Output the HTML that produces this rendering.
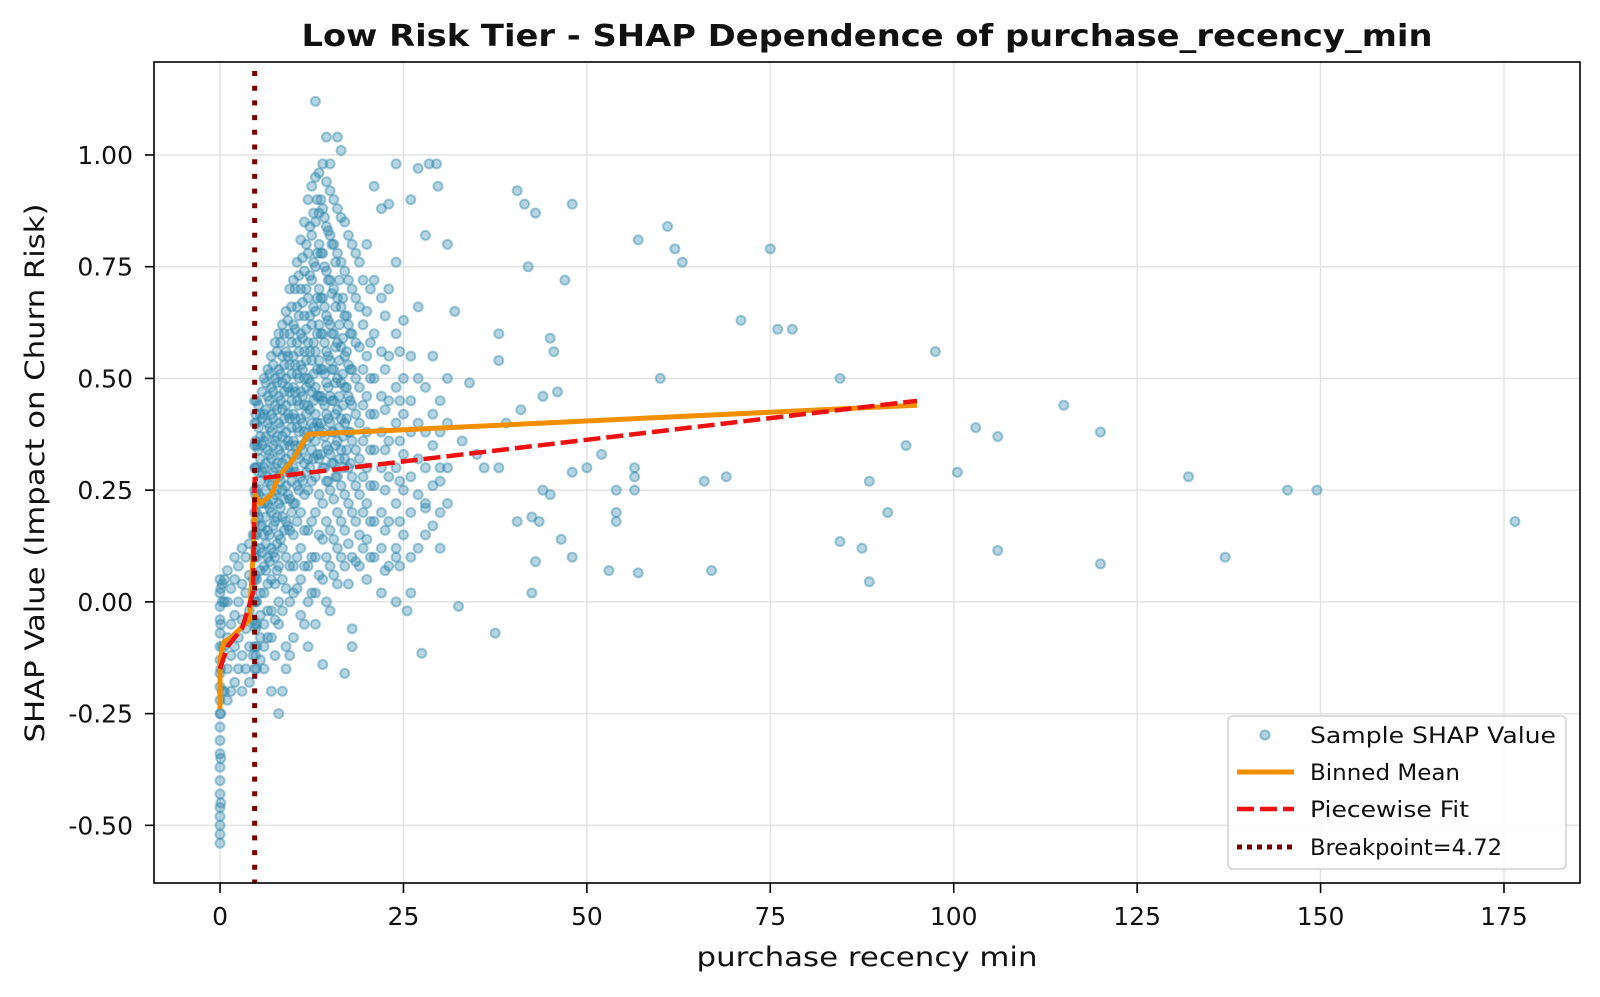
<!DOCTYPE html>
<html><head><meta charset="utf-8">
<style>
body{margin:0;background:#fff;}
svg text{font-family:"DejaVu Sans","Liberation Sans",sans-serif;fill:#111;}
</style></head>
<body>
<svg id="chart" width="1600" height="992" viewBox="0 0 1600 992" xmlns="http://www.w3.org/2000/svg">
<rect width="1600" height="992" fill="#fff"/>
<text x="867" y="46" text-anchor="middle" font-size="30" font-weight="bold" textLength="1131" lengthAdjust="spacingAndGlyphs">Low Risk Tier - SHAP Dependence of purchase_recency_min</text>
<g id="grid"></g>
<g id="points"></g>
<g id="lines"></g>
<rect x="154" y="62" width="1426" height="821" fill="none" stroke="#000" stroke-width="1.6"/>
<g id="axes"></g>
<text x="867" y="966" text-anchor="middle" font-size="27" textLength="341" lengthAdjust="spacingAndGlyphs">purchase recency min</text>
<text transform="translate(44,473) rotate(-90)" text-anchor="middle" font-size="27" textLength="539" lengthAdjust="spacingAndGlyphs">SHAP Value (Impact on Churn Risk)</text>
<g>
<rect x="1228" y="716" width="338" height="153" rx="5" fill="#fff" fill-opacity="0.85" stroke="#d0d0d0" stroke-width="1.5"/>
<circle cx="1265" cy="735" r="4.5" fill="#2e86ab" fill-opacity="0.35" stroke="#2e86ab" stroke-opacity="0.5" stroke-width="2"/>
<text x="1310" y="743" font-size="22" textLength="246" lengthAdjust="spacingAndGlyphs">Sample SHAP Value</text>
<line x1="1237" y1="772" x2="1294" y2="772" stroke="#f18f01" stroke-width="5"/>
<text x="1310" y="780" font-size="22" textLength="150" lengthAdjust="spacingAndGlyphs">Binned Mean</text>
<line x1="1237" y1="809" x2="1294" y2="809" stroke="#ee1111" stroke-width="4.5" stroke-dasharray="17,6"/>
<text x="1310" y="817" font-size="22" textLength="159" lengthAdjust="spacingAndGlyphs">Piecewise Fit</text>
<line x1="1237" y1="847" x2="1294" y2="847" stroke="#7a0000" stroke-width="5" stroke-dasharray="5,5"/>
<text x="1310" y="855" font-size="22" textLength="192" lengthAdjust="spacingAndGlyphs">Breakpoint=4.72</text>
</g>
</svg>
<script>
const xTicks=[0,25,50,75,100,125,150,175];
const yTicks=[-0.5,-0.25,0,0.25,0.5,0.75,1.0];
const yTickLabels=["-0.50","-0.25","0.00","0.25","0.50","0.75","1.00"];
const breakpoint=4.72;
const binnedX=[0,0,0.5,1.5,4,4.5,4.8,5.5,7,8,10,12,95];
const binnedY=[-0.24,-0.13,-0.09,-0.08,-0.04,0.1,0.24,0.22,0.24,0.28,0.32,0.375,0.44];
const fitX=[0,1,3,4.5,4.72,95];
const fitY=[-0.15,-0.1,-0.06,0.02,0.275,0.45];
const outliers=[[13,1.12],[14.5,1.04],[16,1.04],[16.5,1.01],[15,0.98],[24,0.98],[27,0.97],[28.5,0.98],[29.5,0.98],[29.7,0.93],[21,0.93],[23,0.89],[26,0.9],[40.5,0.92],[41.5,0.89],[43,0.87],[48,0.89],[61,0.84],[57,0.81],[62,0.79],[63,0.76],[42,0.75],[47,0.72],[75,0.79],[71,0.63],[76,0.61],[78,0.61],[97.5,0.56],[84.5,0.5],[60,0.5],[38,0.6],[45,0.59],[45.5,0.56],[46,0.47],[44,0.46],[115,0.44],[103,0.39],[106,0.37],[120,0.38],[93.5,0.35],[132,0.28],[145.5,0.25],[149.5,0.25],[176.5,0.18],[100.5,0.29],[88.5,0.27],[91,0.2],[84.5,0.135],[87.5,0.12],[88.5,0.045],[106,0.115],[120,0.085],[137,0.1],[66,0.27],[69,0.28],[67,0.07],[57,0.065],[53,0.07],[56.5,0.3],[56.5,0.28],[54,0.25],[56.5,0.25],[54,0.2],[54,0.18],[52,0.33],[50,0.3],[48,0.29],[48,0.1],[45,0.24],[44,0.25],[46.5,0.14],[42.5,0.19],[43.5,0.18],[42.5,0.02],[43,0.09],[40.5,0.18],[37.5,-0.07],[32.5,-0.01],[27.5,-0.115],[25.5,-0.02],[24,0.1],[36,0.3],[38,0.54],[41,0.43],[39,0.4],[34,0.49],[32,0.65],[31,0.8],[33,0.36],[30,0.27],[28,0.21],[35,0.33],[38,0.3]];
const denseCols=[
[0,[-0.54,-0.52,-0.5,-0.48,-0.46,-0.43,-0.4,-0.37,-0.34,-0.31,-0.28,-0.25,-0.22,-0.19,-0.16,-0.13,-0.1,-0.07,-0.04,-0.01,0.02,0.05]],
[0.1,[-0.45,-0.35,-0.25,-0.15,-0.05,0.03]],
[0.3,[-0.2,-0.1,0,0.04]],
[0.6,[-0.2,-0.1,0,0.05]],
[1,[-0.22,-0.15,-0.08,0,0.07]],
[1.5,[-0.2,-0.12,-0.05,0.03]],
[2,[-0.18,-0.1,-0.03,0.05,0.1]],
[2.5,[-0.15,-0.08,0,0.08]],
[3,[-0.2,-0.12,-0.04,0.04,0.12]],
[3.5,[-0.15,-0.06,0.02,0.1]],
[4,[-0.18,-0.1,-0.02,0.06,0.13]],
[4.5,[-0.12,-0.04,0.05,0.15]],
[4.72,[-0.15,-0.1,-0.05,0,0.05,0.1,0.15,0.2,0.25,0.3,0.35,0.4,0.45]],
[4.85,[-0.12,-0.06,0,0.06,0.12,0.18,0.24,0.3,0.36,0.42]],
[5,[0.45,0.4,0.35,0.3,0.25,0.2,0.15,0.1,0.05,0,-0.05,-0.1,-0.15]],
[5.5,[0.42,0.37,0.32,0.27,0.22,0.17,0.12,0.07,0.02,-0.03,-0.08,-0.13]],
[6,[0.5,0.42,0.36,0.3,0.22,0.15,0.08,0.02,-0.05,-0.1,-0.15]],
[6.5,[0.52,0.46,0.4,0.34,0.28,0.22,0.16,0.1,0.04,-0.02,-0.08]],
[7,[0.55,0.48,0.42,0.38,0.32,0.26,0.2,0.12,0.05,-0.02,-0.08,-0.2]],
[7.5,[0.58,0.5,0.44,0.36,0.3,0.24,0.18,0.1,0.04,-0.04,-0.12]],
[8,[0.6,0.52,0.46,0.4,0.34,0.28,0.22,0.15,0.08,0,-0.05,-0.25]],
[8.5,[0.62,0.55,0.49,0.43,0.37,0.31,0.25,0.19,0.12,0.05,-0.02,-0.2]],
[9,[0.65,0.56,0.5,0.44,0.38,0.32,0.26,0.18,0.1,0.03,-0.1,-0.15]],
[9.5,[0.7,0.6,0.53,0.47,0.41,0.35,0.29,0.23,0.16,0.08,0,-0.12]],
[10,[0.72,0.62,0.55,0.48,0.42,0.36,0.3,0.22,0.15,0.08,0.02,-0.08]],
[10.5,[0.76,0.66,0.58,0.51,0.45,0.39,0.33,0.26,0.18,0.1,0.03]],
[11,[0.81,0.7,0.6,0.53,0.47,0.41,0.35,0.28,0.2,0.12,0.05,-0.03]],
[11.5,[0.85,0.74,0.64,0.56,0.5,0.44,0.38,0.31,0.24,0.16,0.08,-0.05]],
[12,[0.9,0.78,0.68,0.58,0.5,0.44,0.38,0.32,0.25,0.16,0.08,0,-0.1]],
[12.5,[0.93,0.82,0.72,0.62,0.54,0.47,0.4,0.34,0.27,0.18,0.1,0.02]],
[13,[0.95,0.85,0.75,0.65,0.56,0.48,0.42,0.36,0.28,0.2,0.1,0.02,-0.05]],
[13.5,[0.96,0.87,0.8,0.7,0.62,0.54,0.46,0.39,0.32,0.24,0.15,0.06]],
[14,[0.98,0.88,0.78,0.68,0.6,0.52,0.45,0.38,0.3,0.22,0.14,0.05,-0.14]],
[14.5,[0.94,0.84,0.74,0.64,0.56,0.49,0.42,0.35,0.27,0.18,0.1,0]],
[15,[0.92,0.82,0.72,0.62,0.54,0.46,0.4,0.33,0.25,0.16,0.08,-0.02]],
[15.5,[0.9,0.8,0.7,0.6,0.52,0.45,0.38,0.31,0.23,0.14,0.06]],
[16,[0.88,0.78,0.68,0.58,0.5,0.43,0.36,0.28,0.2,0.12,0.04]],
[16.5,[0.86,0.76,0.66,0.57,0.49,0.41,0.34,0.26,0.18,0.1]],
[17,[0.85,0.74,0.64,0.55,0.48,0.4,0.32,0.24,0.16,0.08,-0.16]],
[17.5,[0.82,0.72,0.62,0.53,0.46,0.38,0.3,0.22,0.13,0.04]],
[18,[0.8,0.7,0.6,0.52,0.44,0.36,0.28,0.2,0.1,-0.06,-0.1]],
[18.5,[0.78,0.68,0.58,0.5,0.42,0.34,0.26,0.18,0.09]],
[19,[0.76,0.66,0.57,0.48,0.4,0.32,0.24,0.15,0.08]],
[19.5,[0.72,0.62,0.52,0.44,0.36,0.28,0.2,0.12]],
[20,[0.8,0.65,0.55,0.46,0.38,0.3,0.22,0.14,0.05]],
[20.5,[0.7,0.58,0.5,0.42,0.34,0.26,0.18,0.1]],
[21,[0.72,0.6,0.5,0.42,0.34,0.26,0.18,0.1]],
[22,[0.88,0.68,0.56,0.46,0.38,0.3,0.2,0.12,0.02]],
[22.5,[0.64,0.52,0.43,0.34,0.25,0.16,0.07]],
[23,[0.7,0.55,0.45,0.36,0.28,0.18,0.08]],
[24,[0.76,0.6,0.48,0.4,0.3,0.22,0.12,0.0]],
[24.5,[0.56,0.45,0.36,0.27,0.18,0.08]],
[25,[0.63,0.5,0.42,0.33,0.25,0.15]],
[26,[0.55,0.45,0.38,0.28,0.2,0.1,0.02]],
[27,[0.66,0.5,0.4,0.32,0.24,0.12]],
[28,[0.82,0.48,0.38,0.3,0.22,0.15]],
[29,[0.55,0.42,0.35,0.26,0.17]],
[30,[0.45,0.38,0.3,0.2,0.12]],
[31,[0.5,0.4,0.3,0.22]]
];
const denseCore=[
[5.25,[0.44,0.39,0.34,0.29,0.24,0.19]],
[5.75,[0.47,0.41,0.35,0.29,0.23,0.17,0.11]],
[6.25,[0.49,0.43,0.37,0.31,0.25,0.19,0.13,0.07]],
[6.75,[0.51,0.45,0.39,0.33,0.27,0.21,0.15,0.09]],
[7.25,[0.53,0.47,0.41,0.35,0.29,0.23,0.17,0.11]],
[7.75,[0.56,0.49,0.43,0.37,0.31,0.25,0.19,0.13,0.07]],
[8.25,[0.58,0.51,0.45,0.39,0.33,0.27,0.21,0.14]],
[8.75,[0.6,0.53,0.47,0.41,0.35,0.29,0.23,0.16]],
[9.25,[0.63,0.55,0.48,0.42,0.36,0.3,0.24,0.17]],
[9.75,[0.66,0.58,0.51,0.45,0.39,0.33,0.27,0.2]],
[10.25,[0.7,0.61,0.53,0.47,0.41,0.35,0.29,0.22]],
[10.75,[0.73,0.64,0.56,0.5,0.44,0.38,0.32,0.25]],
[11.25,[0.77,0.67,0.59,0.52,0.46,0.4,0.34,0.27]],
[11.75,[0.8,0.7,0.61,0.54,0.48,0.42,0.36,0.29]],
[12.25,[0.84,0.73,0.64,0.56,0.49,0.43,0.37,0.3]],
[12.75,[0.87,0.76,0.66,0.58,0.51,0.45,0.39,0.32]],
[13.25,[0.9,0.78,0.68,0.6,0.52,0.46,0.4,0.33]],
[13.75,[0.9,0.78,0.68,0.6,0.52,0.46,0.4,0.33]],
[14.25,[0.86,0.75,0.66,0.58,0.51,0.44,0.37,0.3]],
[14.75,[0.83,0.72,0.63,0.55,0.48,0.41,0.34,0.27]],
[15.25,[0.8,0.69,0.6,0.52,0.45,0.38,0.31]],
[15.75,[0.76,0.66,0.57,0.49,0.42,0.35,0.28]],
[16.25,[0.72,0.62,0.54,0.46,0.39,0.32]],
[16.75,[0.68,0.59,0.51,0.44,0.37,0.3]],
[17.25,[0.64,0.56,0.48,0.41,0.34]],
[17.75,[0.6,0.52,0.45,0.38,0.31]]
];
const NS="http://www.w3.org/2000/svg";
const X0=154,X1=1580,Y0=62,Y1=883;
const xMin=-9.0,xMax=185.36,yMin=-0.629,yMax=1.208;
function sx(v){return X0+(v-xMin)/(xMax-xMin)*(X1-X0);}
function sy(v){return Y1-(v-yMin)/(yMax-yMin)*(Y1-Y0);}
function mk(tag,attrs,parent){const e=document.createElementNS(NS,tag);for(const k in attrs)e.setAttribute(k,attrs[k]);parent.appendChild(e);return e;}
const grid=document.getElementById('grid'),axes=document.getElementById('axes'),pts=document.getElementById('points'),lines=document.getElementById('lines');
xTicks.forEach(t=>{
  const g=mk('line',{x1:sx(t),x2:sx(t),y1:Y0,y2:Y1,stroke:'#e3e3e3','stroke-width':1.5},grid);
  
  
  const tk=mk('line',{x1:sx(t),x2:sx(t),y1:Y1,y2:Y1+10,stroke:'#000','stroke-width':1.6},axes);
  
  
  const tx=mk('text',{x:sx(t),y:Y1+42,'text-anchor':'middle','font-size':25},axes);
  tx.textContent=t;
  
  
});
yTicks.forEach((t,i)=>{
  const g=mk('line',{x1:X0,x2:X1,y1:sy(t),y2:sy(t),stroke:'#e3e3e3','stroke-width':1.5},grid);
  
  
  const tk=mk('line',{x1:X0-9,x2:X0,y1:sy(t),y2:sy(t),stroke:'#000','stroke-width':1.6},axes);
  
  
  const tx=mk('text',{x:X0-21,y:sy(t)+9,'text-anchor':'end','font-size':25},axes);
  tx.textContent=yTickLabels[i];
  
  
});
function dot(x,y){
  const c=mk('circle',{cx:sx(x),cy:sy(y),r:4.5,fill:'#2e86ab','fill-opacity':0.35,stroke:'#2e86ab','stroke-opacity':0.45,'stroke-width':2},pts);
  
  
}
denseCols.forEach(col=>col[1].forEach(y=>dot(col[0],y)));
denseCore.forEach(col=>col[1].forEach(y=>dot(col[0],y)));
outliers.forEach(p=>dot(p[0],p[1]));
function poly(xs,ys){return xs.map((x,i)=>sx(x).toFixed(1)+','+sy(ys[i]).toFixed(1)).join(' ');}
const bm=mk('polyline',{points:poly(binnedX,binnedY),fill:'none',stroke:'#f18f01','stroke-width':5,'stroke-linejoin':'round'},lines);


const pf=mk('polyline',{points:poly(fitX,fitY),fill:'none',stroke:'#ee1111','stroke-width':4.5,'stroke-dasharray':'17,6'},lines);


const bp=mk('line',{x1:sx(breakpoint),x2:sx(breakpoint),y1:Y0+9,y2:Y1,stroke:'#7a0000','stroke-width':5,'stroke-dasharray':'5,9.7'},lines);


</script>
</body></html>
